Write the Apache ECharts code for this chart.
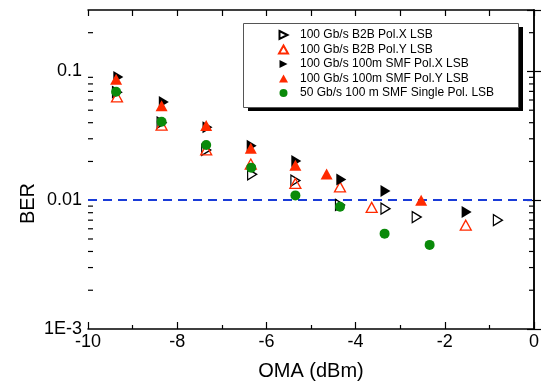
<!DOCTYPE html>
<html><head><meta charset="utf-8">
<script src="https://cdn.jsdelivr.net/npm/echarts@6/dist/echarts.min.js"></script>
<style>html,body{margin:0;padding:0;background:#fff}#c{width:546px;height:386px}</style>
</head><body><div id="c"></div>
<script>
// ---- data ----
const seriesNames = [
  '100 Gb/s B2B Pol.X LSB',
  '100 Gb/s B2B Pol.Y LSB',
  '100 Gb/s 100m SMF Pol.X LSB',
  '100 Gb/s 100m SMF Pol.Y LSB',
  '50 Gb/s 100 m SMF Single Pol. LSB'
];
const xB2BX = [-9.35, -8.35, -7.35, -6.32, -5.35, -4.35, -3.33, -2.63, -0.81];
const yB2BX = [0.069, 0.040, 0.0246, 0.0159, 0.0142, 0.0092, 0.0086, 0.0074, 0.0070];
const xB2BY = [-9.35, -8.35, -7.35, -6.35, -5.35, -4.35, -3.64, -1.53];
const yB2BY = [0.0634, 0.0383, 0.0246, 0.0191, 0.0135, 0.0127, 0.0088, 0.0064];
const xSMFX = [-9.32, -8.30, -7.32, -6.33, -5.33, -4.32, -3.33, -1.51];
const ySMFX = [0.0906, 0.058, 0.0369, 0.0265, 0.0202, 0.0145, 0.0118, 0.0081];
const xSMFY = [-9.37, -8.35, -7.35, -6.35, -5.35, -4.65, -2.53];
const ySMFY = [0.087, 0.0542, 0.038, 0.0253, 0.0187, 0.016, 0.0100];
const x50G = [-9.37, -8.35, -7.35, -6.34, -5.35, -4.35, -3.35, -2.34];
const y50G = [0.0695, 0.0407, 0.0268, 0.0179, 0.0109, 0.0089, 0.0055, 0.0045];
const fecThreshold = 0.011;
const xTickLabels = [-10, -8, -6, -4, -2, 0];
const yTickValues = [0.001, 0.01, 0.1];
const yTickLabels = ['1E-3', '0.01', '0.1'];
const yMinorTicks = [0.002,0.003,0.004,0.005,0.006,0.007,0.008,0.009,
                     0.02,0.03,0.04,0.05,0.06,0.07,0.08,0.09,0.2];
// ---- chart ----
const FONT = '"Liberation Sans", Arial, sans-serif';
const zip = (xs, ys) => xs.map((x, i) => [x, ys[i]]);
const RTRI = 'path://M0,0L10,5L0,10Z';
const RED = '#ff2a00', GREEN = '#0a8a0a';
const chart = echarts.init(document.getElementById('c'), null, {renderer: 'canvas'});
const XMIN = -10, XMAX = 0, YMIN = 0.001, YMAX = 0.3;
const axisLine = {lineStyle: {color: '#000', width: 1.5}};
const option = {
  animation: false,
  backgroundColor: '#fff',
  grid: {left: 88, right: 12, top: 10, bottom: 49, containLabel: false},
  xAxis: [{
    type: 'value', min: XMIN, max: XMAX, interval: 2,
    axisLine: axisLine,
    axisTick: {inside: true, length: 7, lineStyle: {color: '#000', width: 1.2}},
    minorTick: {show: true, splitNumber: 2, length: 4, lineStyle: {color: '#000', width: 1.2}},
    splitLine: {show: false},
    axisLabel: {color: '#000', fontSize: 18, fontFamily: FONT, margin: 4,
      formatter: v => xTickLabels.includes(Math.round(v)) ? String(Math.round(v)) : ''},
    name: 'OMA (dBm)', nameLocation: 'middle', nameGap: 32,
    nameTextStyle: {color: '#000', fontSize: 20, fontFamily: FONT}
  }, {
    type: 'value', position: 'top', min: XMIN, max: XMAX, interval: 1,
    axisLine: axisLine,
    axisTick: {inside: true, length: 6, lineStyle: {color: '#000', width: 1.2}},
    axisLabel: {show: false}, splitLine: {show: false}
  }],
  yAxis: [{
    type: 'log', logBase: 10, min: YMIN, max: YMAX,
    axisLine: axisLine,
    axisTick: {inside: true, length: 7, lineStyle: {color: '#000', width: 1.2}},
    splitLine: {show: false},
    axisLabel: {color: '#000', fontSize: 18, fontFamily: FONT, margin: 6,
      formatter: v => {
        const l = Math.log10(v), r = Math.round(l);
        if (Math.abs(l - r) > 1e-6) return '';
        const i = yTickValues.findIndex(t => Math.abs(Math.log10(t) - r) < 1e-6);
        return i >= 0 ? yTickLabels[i] : '';
      }}
  }, {
    type: 'log', logBase: 10, min: YMIN, max: YMAX, position: 'right',
    axisLine: axisLine,
    axisTick: {inside: true, length: 7, lineStyle: {color: '#000', width: 1.2}},
    axisLabel: {show: false}, splitLine: {show: false}
  }],
  legend: {
    orient: 'vertical', left: 278, top: 28, z: 30, padding: 0,
    itemWidth: 9, itemHeight: 8, itemGap: 0.5,
    textStyle: {color: '#000', fontSize: 12, lineHeight: 14, fontFamily: FONT, padding: [0, 0, 0, 7]},
    data: seriesNames
  },
  graphic: [
    {type: 'rect', shape: {x: 248, y: 27, width: 275, height: 84}, style: {fill: '#000'}, z: 1},
    {type: 'rect', shape: {x: 243.5, y: 23.5, width: 275, height: 84},
     style: {fill: '#fff', stroke: '#555', lineWidth: 1}, z: 2},
    {type: 'text', left: 18, top: 183, rotation: Math.PI / 2,
     style: {text: 'BER', fill: '#000', font: '20px ' + FONT}, z: 20}
  ],
  series: [
    {name: seriesNames[0], type: 'scatter', data: zip(xB2BX, yB2BX), symbol: RTRI, symbolSize: [9, 11],
     itemStyle: {color: 'rgba(255,255,255,0)', borderColor: '#000', borderWidth: 1.3, opacity: 1}, z: 5,
     markLine: {silent: true, symbol: ['none', 'none'], label: {show: false},
       lineStyle: {color: '#1a3cd8', type: [9, 6], width: 2, opacity: 1}, data: [{yAxis: fecThreshold}]}},
    {name: seriesNames[1], type: 'scatter', data: zip(xB2BY, yB2BY), symbol: 'triangle', symbolSize: [11, 10],
     itemStyle: {color: 'rgba(255,255,255,0)', borderColor: RED, borderWidth: 1.3, opacity: 1}, z: 5},
    {name: seriesNames[2], type: 'scatter', data: zip(xSMFX, ySMFX), symbol: RTRI, symbolSize: [10, 12],
     itemStyle: {color: '#000', opacity: 1}, z: 5},
    {name: seriesNames[3], type: 'scatter', data: zip(xSMFY, ySMFY), symbol: 'triangle', symbolSize: [12, 11],
     itemStyle: {color: RED, opacity: 1}, z: 5},
    {name: seriesNames[4], type: 'scatter', data: zip(x50G, y50G), symbol: 'circle', symbolSize: 10,
     itemStyle: {color: GREEN, opacity: 1}, z: 5},
    {type: 'custom', silent: true, clip: false, z: 4,
     data: yMinorTicks.map(v => [XMIN, v]),
     renderItem: (params, api) => {
       const v = api.value(1);
       const pL = api.coord([XMIN, v]);
       const pR = api.coord([XMAX, v]);
       const st = {stroke: '#000', lineWidth: 1.2};
       return {type: 'group', children: [
         {type: 'line', shape: {x1: pL[0], y1: pL[1], x2: pL[0] + 5, y2: pL[1]}, style: st},
         {type: 'line', shape: {x1: pR[0] - 5, y1: pR[1], x2: pR[0], y2: pR[1]}, style: st}
       ]};
     }}
  ]
};
chart.setOption(option);
</script></body></html>
